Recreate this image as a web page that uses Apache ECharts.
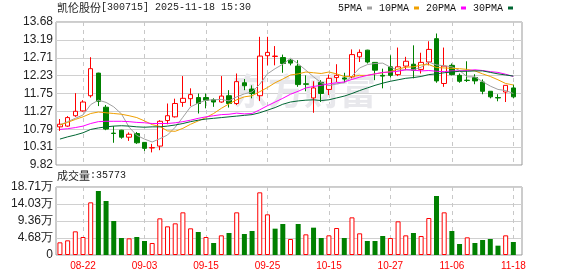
<!DOCTYPE html>
<html><head><meta charset="utf-8">
<script src="https://cdn.jsdelivr.net/npm/echarts@6/dist/echarts.min.js"></script>
<style>html,body{margin:0;padding:0;background:#fff}#c{width:578px;height:276px}</style>
</head><body><div id="c"></div>
<script>
const dates = ['08-19','08-20','08-21','08-22','08-25','08-26','08-27','08-28','08-29','09-01','09-02','09-03','09-04','09-05','09-08','09-09','09-10','09-11','09-12','09-15','09-16','09-17','09-18','09-19','09-22','09-23','09-24','09-25','09-26','09-29','09-30','10-09','10-10','10-13','10-14','10-15','10-16','10-17','10-20','10-21','10-22','10-23','10-24','10-27','10-28','10-29','10-30','10-31','11-03','11-04','11-05','11-06','11-07','11-10','11-11','11-12','11-13','11-14','11-17','11-18'];
const opens  = [10.85,10.87,11.15,11.28,11.69,12.30,11.38,10.68,10.76,10.57,10.67,10.43,10.28,10.33,11.02,11.12,11.51,11.61,11.64,11.64,11.58,11.52,11.69,11.48,12.04,11.87,11.69,12.77,12.75,12.72,12.65,12.49,12.01,11.63,12.05,11.86,12.18,12.17,12.20,12.74,12.92,12.59,12.24,12.47,12.26,12.49,12.54,12.40,12.60,13.23,12.02,12.51,12.24,12.11,12.18,12.06,11.81,11.64,11.79,11.90];
const closes = [10.92,11.10,11.27,11.52,12.42,11.54,10.79,10.67,10.57,10.65,10.42,10.27,10.29,11.00,11.15,11.48,11.62,11.72,11.48,11.57,11.52,11.68,11.48,12.07,11.96,11.75,12.76,12.86,12.76,12.56,12.57,11.99,12.00,11.90,11.75,12.16,12.24,12.14,12.80,12.86,12.60,12.38,12.22,12.24,12.47,12.62,12.38,12.59,12.94,12.09,12.49,12.26,12.08,12.10,12.09,11.81,11.66,11.63,11.97,11.66];
const lows   = [10.74,10.85,11.12,11.26,11.64,11.41,10.76,10.42,10.53,10.47,10.39,10.20,10.16,10.22,10.92,11.10,11.39,11.41,11.21,11.35,11.39,11.50,11.37,11.44,11.84,11.62,11.55,12.51,12.51,12.31,12.51,11.93,11.81,11.23,11.52,11.71,12.06,12.04,12.16,12.60,12.56,12.11,11.89,12.18,12.22,12.38,12.16,12.29,12.51,12.04,11.93,12.24,12.04,12.06,12.00,11.73,11.62,11.54,11.52,11.62];
const highs  = [11.06,11.14,11.76,11.57,12.73,12.31,11.44,10.87,10.77,10.70,10.71,10.44,10.39,11.03,11.48,11.61,12.22,11.89,11.75,11.75,11.62,12.22,11.84,12.29,12.14,11.97,13.28,13.28,13.03,12.80,12.68,12.65,12.24,12.08,12.11,12.26,12.54,12.31,12.94,12.94,12.93,12.60,12.42,12.78,12.99,12.74,13.05,12.85,13.16,13.37,12.99,12.56,12.29,12.62,12.27,12.13,11.81,11.73,11.97,11.99];
const ma5  = [10.90,10.99,11.08,11.17,11.45,11.57,11.51,11.39,11.20,10.84,10.62,10.52,10.44,10.53,10.63,10.84,11.11,11.39,11.49,11.57,11.58,11.59,11.55,11.66,11.74,11.79,12.00,12.28,12.42,12.54,12.70,12.55,12.38,12.20,12.04,11.96,12.01,12.04,12.22,12.44,12.53,12.56,12.57,12.46,12.38,12.39,12.39,12.46,12.60,12.52,12.50,12.47,12.37,12.20,12.20,12.07,11.95,11.86,11.83,11.75];
const ma10 = [10.90,10.97,11.05,11.12,11.21,11.25,11.23,11.21,11.19,11.15,11.10,11.01,10.91,10.86,10.74,10.73,10.81,10.92,11.01,11.10,11.21,11.35,11.47,11.58,11.66,11.69,11.80,11.91,12.04,12.14,12.25,12.28,12.33,12.31,12.29,12.33,12.28,12.21,12.21,12.24,12.24,12.28,12.31,12.34,12.41,12.46,12.47,12.52,12.53,12.45,12.44,12.43,12.42,12.40,12.36,12.28,12.21,12.12,12.02,11.98];
const ma20 = [10.78,10.80,10.83,10.87,10.94,10.99,11.00,11.00,11.00,10.99,10.97,10.96,10.94,10.94,10.94,10.96,10.99,11.03,11.08,11.12,11.15,11.18,11.19,11.22,11.20,11.21,11.31,11.42,11.52,11.62,11.73,11.81,11.90,11.94,11.97,12.01,12.04,12.06,12.13,12.19,12.24,12.28,12.32,12.33,12.35,12.39,12.38,12.36,12.37,12.35,12.34,12.36,12.36,12.37,12.39,12.37,12.34,12.32,12.27,12.21];
const ma30 = [10.52,10.58,10.63,10.69,10.78,10.82,10.85,10.87,10.88,10.87,10.85,10.84,10.85,10.85,10.87,10.90,10.94,10.99,11.03,11.06,11.08,11.10,11.12,11.14,11.16,11.18,11.23,11.30,11.37,11.46,11.52,11.55,11.57,11.58,11.56,11.58,11.63,11.68,11.75,11.83,11.90,11.97,12.03,12.08,12.12,12.16,12.18,12.21,12.26,12.28,12.31,12.33,12.35,12.35,12.36,12.36,12.32,12.28,12.25,12.22];
const vols = [34850,40360,65120,49530,144900,176100,148600,93550,46780,45860,49530,38520,33020,100900,78880,87130,117400,73380,63290,49530,33020,54120,60540,117400,57780,66040,172400,111900,72460,85300,44030,85300,56870,75210,46780,54120,74290,46780,103600,59620,38520,38520,52280,46780,92640,54120,60540,52280,101800,162300,117400,66040,30270,48610,33020,41270,44030,25680,54120,35773];
const priceTicks = ['9.82','10.31','10.79','11.27','11.75','12.23','12.71','13.19','13.68'];
const volTicks = ['0','4.68万','9.36万','14.03万','18.71万'];
const maNames = ['5PMA','10PMA','20PMA','30PMA'];

const chart = echarts.init(document.getElementById('c'), null, {renderer:'canvas'});
const kData = dates.map((d,i)=>[opens[i],closes[i],lows[i],highs[i]]);
const volData = vols.map((v,i)=>{
  const up = i===0 ? closes[i]>=opens[i] : closes[i]>=closes[i-1];
  return {value:v, itemStyle: up ? {color:'#fff',borderColor:'#ff0000',borderWidth:1} : {color:'#008000',borderColor:'#008000',borderWidth:0}};
});
const labIdx = (idx)=> (idx-3)%8===0;
const PL=56, PW=466, DL=59.95, DW=453.4;
const maColors = ['#a0a0a0','#f0a000','#ff00ff','#006633'];
const maData = [ma5,ma10,ma20,ma30];
const monoF = "'Liberation Mono', monospace";
const cjkF = "'Noto Sans CJK SC', sans-serif";
const richT = {c:{fontFamily:cjkF,fontSize:11,fontWeight:'normal',color:'#222'},m:{fontFamily:monoF,fontSize:10,fontWeight:'normal',color:'#222'}};
const option = {
  animation:false,
  backgroundColor:'#fff',
  title:[
    {left:57, top:2, padding:0, text:'{c|凯伦股份}{m|[300715] 2025-11-18 15:30}',
     textStyle:{fontWeight:'normal', rich:richT}},
    {left:57, top:170, padding:0, text:'{c|成交量}{m|:'+vols[vols.length-1]+'}',
     textStyle:{fontWeight:'normal', rich:richT}}
  ],
  legend:{left:338, top:3, padding:0, itemWidth:5, itemHeight:3, itemGap:7, align:'right', selectedMode:false, icon:'rect',
    textStyle:{fontFamily:monoF,fontSize:10,color:'#111'}, data:maNames},
  graphic:[{type:'text', left:232, top:73, z:1, silent:true,
    style:{text:'东方财富', fill:'#e8e8ec', font:"bold 36px 'Noto Sans CJK SC'"}}],
  grid:[
    {left:PL, top:22, width:PW, height:143, show:true, borderColor:'#999', borderWidth:1, backgroundColor:'transparent'},
    {left:DL, top:22, width:DW, height:143},
    {left:PL, top:187, width:PW, height:68, show:true, borderColor:'#999', borderWidth:1, backgroundColor:'transparent'},
    {left:DL, top:187, width:DW, height:68}
  ],
  xAxis:[
    {gridIndex:0, type:'value', min:0, max:1, show:false},
    {gridIndex:1, type:'category', data:dates, boundaryGap:false, axisLine:{show:false}, axisTick:{show:false}, axisLabel:{show:false},
     splitLine:{show:true, interval:labIdx, lineStyle:{color:'#c8c8c8', type:[4,4], width:1}}},
    {gridIndex:2, type:'value', min:0, max:1, show:false},
    {gridIndex:3, type:'category', data:dates, boundaryGap:false, axisLine:{show:false}, axisTick:{show:false},
     axisLabel:{show:true, interval:labIdx, color:'#ff0000', fontSize:10, margin:6, fontFamily:"'Liberation Sans', Arial"},
     splitLine:{show:true, interval:labIdx, lineStyle:{color:'#c8c8c8', type:[4,4], width:1}}}
  ],
  yAxis:[
    {gridIndex:0, type:'value', min:0, max:8, interval:1, axisLine:{show:false}, axisTick:{show:false},
     axisLabel:{margin:3, color:'#222', fontSize:12, fontFamily:"'Liberation Sans', Arial", formatter:(v)=>priceTicks[Math.round(v)]},
     splitLine:{lineStyle:{color:'#d0d0d0', width:1}}},
    {gridIndex:1, type:'value', min:9.82, max:13.68, show:false},
    {gridIndex:2, type:'value', min:0, max:4, interval:1, axisLine:{show:false}, axisTick:{show:false},
     axisLabel:{margin:3, color:'#222', fontSize:12, fontFamily:"'Liberation Sans', Arial", formatter:(v)=>volTicks[Math.round(v)]},
     splitLine:{lineStyle:{color:'#d0d0d0', width:1}}},
    {gridIndex:3, type:'value', min:0, max:187100, show:false}
  ],
  series:[
    {type:'candlestick', name:'K', xAxisIndex:1, yAxisIndex:1, data:kData, barWidth:5, clip:false, z:3,
     itemStyle:{color:'#ffffff', color0:'#008000', borderColor:'#ff0000', borderColor0:'#008000', borderWidth:1}},
    ...maNames.map((n,k)=>({type:'line', name:n, xAxisIndex:1, yAxisIndex:1, data:maData[k], symbol:'none', clip:false, z:4,
      color:maColors[k], lineStyle:{width:1, color:maColors[k]}, itemStyle:{color:maColors[k]}})),
    {type:'bar', name:'VOL', xAxisIndex:3, yAxisIndex:3, data:volData, barWidth:5, clip:false}
  ]
};
chart.setOption(option);
</script></body></html>
